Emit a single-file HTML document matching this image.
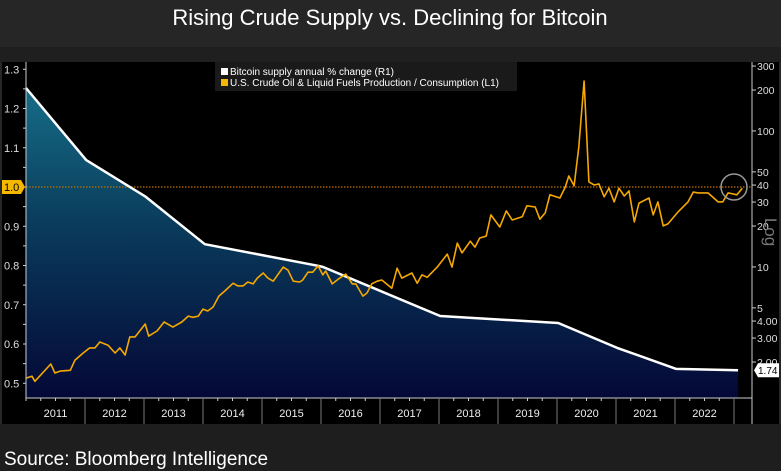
<!DOCTYPE html>
<html><head><meta charset="utf-8"><style>
body{margin:0;background:#262626;width:781px;height:471px;overflow:hidden;font-family:"Liberation Sans",sans-serif}
svg{display:block}
</style></head><body>
<svg id="c" width="781" height="471">
<defs>
<linearGradient id="g" gradientUnits="userSpaceOnUse" x1="0" y1="80" x2="0" y2="398">
<stop offset="0" stop-color="#16708a"/><stop offset="0.45" stop-color="#0a3c5c"/><stop offset="1" stop-color="#040836"/></linearGradient>
</defs>
<rect x="0" y="0" width="781" height="47" fill="#262626"/>
<rect x="0" y="47" width="781" height="15" fill="#1f1f1f"/>
<rect x="2" y="62" width="777" height="362" fill="#000"/>
<rect x="0" y="424" width="781" height="47" fill="#1e1e1e"/>
<text x="390" y="25" fill="#fff" font-size="22" text-anchor="middle">Rising Crude Supply vs. Declining for Bitcoin</text>
<text x="4" y="465" fill="#fff" font-size="19">Source: Bloomberg Intelligence</text>
<g id="plot"></g>
</svg>
<script>
const crudeDates=[2011.0,2011.10,2011.15,2011.42,2011.49,2011.58,2011.75,2011.83,2011.97,2012.08,2012.17,2012.25,2012.39,2012.51,2012.59,2012.68,2012.76,2012.85,2013.02,2013.08,2013.22,2013.34,2013.49,2013.64,2013.75,2013.83,2013.92,2014.00,2014.08,2014.17,2014.27,2014.37,2014.51,2014.59,2014.68,2014.76,2014.85,2014.92,2015.02,2015.10,2015.19,2015.36,2015.44,2015.53,2015.64,2015.69,2015.78,2015.86,2015.95,2016.03,2016.08,2016.19,2016.29,2016.42,2016.53,2016.59,2016.71,2016.78,2016.86,2016.95,2017.03,2017.20,2017.29,2017.37,2017.54,2017.63,2017.71,2017.80,2017.97,2018.14,2018.22,2018.31,2018.39,2018.53,2018.61,2018.69,2018.80,2018.88,2019.03,2019.14,2019.24,2019.41,2019.49,2019.63,2019.71,2019.80,2019.88,2020.05,2020.14,2020.20,2020.29,2020.37,2020.46,2020.54,2020.63,2020.71,2020.80,2020.88,2020.97,2021.05,2021.14,2021.22,2021.31,2021.39,2021.56,2021.63,2021.71,2021.80,2021.88,2022.05,2022.22,2022.31,2022.39,2022.56,2022.73,2022.81,2022.90,2023.05,2023.14];
const crudeValues=[0.513,0.518,0.505,0.549,0.526,0.531,0.533,0.559,0.577,0.590,0.590,0.605,0.597,0.577,0.590,0.572,0.618,0.618,0.651,0.620,0.633,0.656,0.643,0.656,0.671,0.668,0.671,0.689,0.684,0.694,0.722,0.735,0.755,0.748,0.748,0.758,0.753,0.768,0.781,0.768,0.760,0.796,0.788,0.760,0.758,0.763,0.783,0.783,0.799,0.776,0.786,0.753,0.765,0.778,0.753,0.753,0.722,0.730,0.753,0.760,0.763,0.742,0.793,0.768,0.781,0.755,0.776,0.770,0.796,0.829,0.796,0.857,0.832,0.862,0.847,0.870,0.875,0.929,0.898,0.939,0.916,0.924,0.952,0.949,0.918,0.934,0.980,0.972,1.000,1.028,1.003,1.102,1.270,1.013,1.005,1.008,0.975,0.997,0.962,0.997,0.977,0.990,0.911,0.959,0.972,0.929,0.962,0.901,0.906,0.936,0.962,0.987,0.985,0.985,0.962,0.962,0.985,0.980,0.997,1.000];
const btcDates=[2011.0,2012.02,2013.02,2014.03,2015.95,2016.03,2018.02,2020.02,2021.02,2022.02,2023.07];
const btcValues=[207,61,33,14.7,10.2,10.0,4.36,3.87,2.54,1.78,1.74];
const leftTicks=[0.5,0.6,0.7,0.8,0.9,1.0,1.1,1.2,1.3];
const rightTicks=[2,3,4,5,10,20,30,40,50,100,200,300];
const rightLabels=["2.00","3.00","4.00","5","10","20","30","40","50","100","200","300"];
const years=[2011,2012,2013,2014,2015,2016,2017,2018,2019,2020,2021,2022];

const NS="http://www.w3.org/2000/svg";
const X0=26,X1=752,YB=398;
const xS=t=>26+(t-2011)*59;
const yL=v=>187-(v-1.0)*392.5;
const yR=v=>362-Math.log10(v/2)*136;
const g=document.getElementById('plot');
function mk(tag,a,parent){const e=document.createElementNS(NS,tag);for(const k in a)e.setAttribute(k,a[k]);(parent||g).appendChild(e);return e;}

let pts=btcDates.map((d,i)=>xS(d).toFixed(1)+","+yR(btcValues[i]).toFixed(1));
let area=mk('path',{d:"M"+xS(btcDates[0])+","+YB+" L"+pts.join(" L")+" L"+xS(btcDates[btcDates.length-1])+","+YB+" Z",fill:"url(#g)"});



let ref=mk('line',{x1:X0,x2:X1,y1:yL(1.0),y2:yL(1.0),stroke:"#c07000","stroke-width":1.2,"stroke-dasharray":"1.5,1.5"});



let bl=mk('polyline',{points:pts.join(" "),fill:"none",stroke:"#fff","stroke-width":2.5,"stroke-linejoin":"round"});



let cp=crudeDates.map((d,i)=>xS(d).toFixed(1)+","+yL(crudeValues[i]).toFixed(1));
let cl=mk('polyline',{points:cp.join(" "),fill:"none",stroke:"#f5a800","stroke-width":1.6,"stroke-linejoin":"round"});



let circ=mk('circle',{cx:734,cy:yL(1.0),r:13,fill:"none",stroke:"#999","stroke-width":1.5});



let la=mk('line',{x1:X0,x2:X0,y1:62,y2:YB,stroke:"#ccc","stroke-width":1});


for(let v=0.5;v<=1.3001;v+=0.05){mk('line',{x1:X0-3,x2:X0,y1:yL(v),y2:yL(v),stroke:"#ccc"});}
leftTicks.forEach(v=>{
  if(v===1.0)return;
  let t=mk('text',{x:4,y:yL(v)+4,fill:"#ddd","font-size":11});t.textContent=v.toFixed(1);
  
  
});
let lb=mk('path',{d:`M2,${yL(1)-7} H21 L25,${yL(1)} L21,${yL(1)+7} H2 Z`,fill:"#f5b800"});


let lbt=mk('text',{x:4,y:yL(1)+4,fill:"#000","font-size":11});lbt.textContent="1.0";



let ra=mk('line',{x1:X1,x2:X1,y1:62,y2:424,stroke:"#ccc"});


rightTicks.forEach((v,i)=>{
  mk('line',{x1:X1,x2:X1+4,y1:yR(v),y2:yR(v),stroke:"#ccc"});
  let t=mk('text',{x:X1+5,y:yR(v)+4,fill:"#ddd","font-size":10.5});t.textContent=rightLabels[i];
  
  
});
let lg=mk('text',{x:765,y:232,fill:"#777","font-size":17,transform:"rotate(90 765 232)","text-anchor":"middle"});lg.textContent="Log";


let yb=yR(1.74);
let rb=mk('path',{d:`M${X1+2},${yb} L${X1+6},${yb-7} H779 V${yb+7} H${X1+6} Z`,fill:"#fff"});


let rbt=mk('text',{x:X1+6,y:yb+4,fill:"#000","font-size":10});rbt.textContent="1.74";



let xa=mk('line',{x1:X0,x2:X1,y1:YB,y2:YB,stroke:"#ccc"});


for(let m=0;m<12*12+1;m+=3){mk('line',{x1:xS(2011+m/12),x2:xS(2011+m/12),y1:YB,y2:YB+3,stroke:"#ccc"});}
years.forEach(y=>{
  mk('line',{x1:xS(y+1),x2:xS(y+1),y1:YB,y2:424,stroke:"#777"});
  let t=mk('text',{x:xS(y+0.5),y:417,fill:"#eee","font-size":11,"text-anchor":"middle"});t.textContent=y;
  
  
});

let lgb=mk('rect',{x:215,y:62,width:302,height:29,fill:"#1a1a1a"});


[["#fff","Bitcoin supply annual % change  (R1)"],["#f5b800","U.S. Crude Oil & Liquid Fuels Production / Consumption (L1)"]].forEach((e,i)=>{
  let s=mk('rect',{x:221,y:68+i*11,width:7,height:7,fill:e[0]});
  
  
  let t=mk('text',{x:230,y:75+i*11,fill:"#fff","font-size":10});t.textContent=e[1];
  
  
});
</script>
</body></html>
